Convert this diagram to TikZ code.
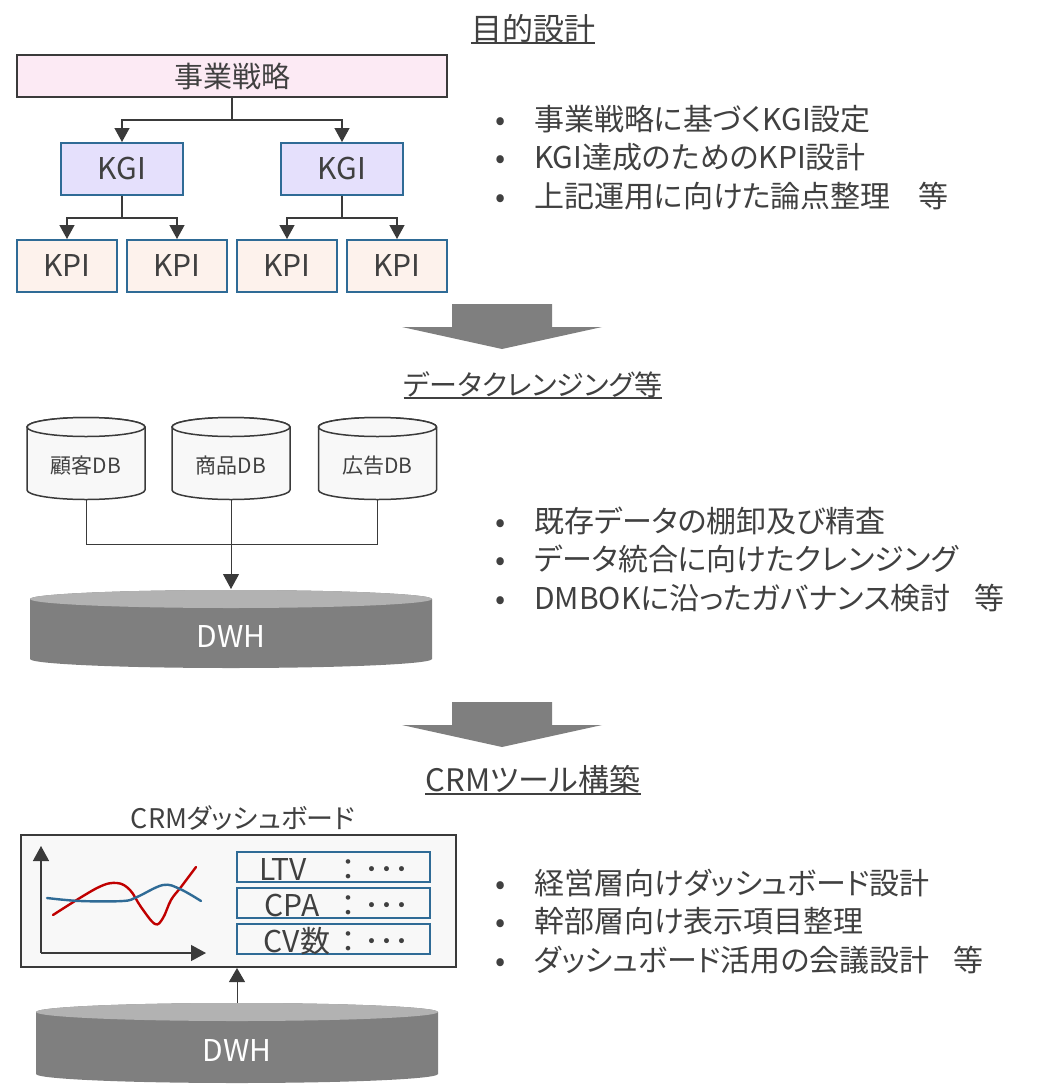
\documentclass[tikz,border=0pt]{standalone}
\usepackage{fontspec}
\setmainfont[RawFeature=+palt]{Noto Sans CJK JP}
\usetikzlibrary{arrows.meta,calc}
\definecolor{tc}{HTML}{404040}
\definecolor{bd}{HTML}{3A3A3A}
\definecolor{bblue}{HTML}{2F6B96}
\definecolor{pinkf}{HTML}{FCEAF4}
\definecolor{lavf}{HTML}{E5E0FC}
\definecolor{peachf}{HTML}{FDF2EC}
\definecolor{dbf}{HTML}{F8F8F8}
\definecolor{gbody}{HTML}{7F7F7F}
\definecolor{gtop}{HTML}{B2B2B2}
\definecolor{cred}{HTML}{C00000}
\newcommand\mycyl[7]{%
  \path[#6] (#1-#2,#3) -- (#1-#2,#4) arc[start angle=180,end angle=360,x radius=#2pt,y radius=#5pt]
    -- (#1+#2,#3) arc[start angle=0,end angle=180,x radius=#2pt,y radius=#5pt] -- cycle;
  \path[#7] (#1,#3) ellipse[x radius=#2pt,y radius=#5pt];
}
\begin{document}
\begin{tikzpicture}[x=1pt,y=-1pt,
  every node/.style={text=tc,inner sep=0pt},
  fs/.style={font=\fontsize{#1}{#1}\selectfont},
  strat/.style={draw=bd,line width=2pt,fill=pinkf,minimum width=430pt,minimum height=42pt,fs=29},
  kgi/.style={draw=bblue,line width=2pt,fill=lavf,minimum width=122pt,minimum height=52pt,fs=30},
  kpi/.style={draw=bblue,line width=2pt,fill=peachf,minimum width=100pt,minimum height=52pt,fs=30},
  conn/.style={draw=bd,line width=1.3pt},
  arr/.style={conn,-{Triangle[width=15pt,length=14pt]}},
  thin/.style={draw=bd,line width=1pt},
  title/.style={fs=31,anchor=base},
  uline/.style={draw=tc,line width=1.6pt},
  bul/.style={fs=30,anchor=base west},
  dblabel/.style={fs=21},
  dwhlabel/.style={fs=30,text=white},
  bigarrow/.style={fill=gbody},
  metric/.style={draw=bblue,line width=2pt,minimum width=193pt,minimum height=30pt},
  mt/.style={fs=30,anchor=base},
  curve/.style={line width=2.4pt,line cap=round}
]
\useasboundingbox (0,0) rectangle (1041,1084);

% ---------- section 1 ----------
\node[title] (t1) at (533,40) {目的設計};
\draw[uline] ([yshift=-3pt]t1.base west) -- ([yshift=-3pt]t1.base east);

\node[strat] (s) at (232,76) {事業戦略};
\node[kgi] (g1) at (122,169) {KGI};
\node[kgi] (g2) at (342,169) {KGI};
\node[kpi] (p1) at (67,266) {KPI};
\node[kpi] (p2) at (177,266) {KPI};
\node[kpi] (p3) at (287,266) {KPI};
\node[kpi] (p4) at (397,266) {KPI};

\coordinate (j0) at (232,120);
\coordinate (j1) at (122,218);
\coordinate (j2) at (342,218);
\draw[conn] (s.south) -- (j0);
\draw[arr] (j0) -| (g1.north);
\draw[arr] (j0) -| (g2.north);
\draw[conn] (g1.south) -- (j1);
\draw[arr] (j1) -| (p1.north);
\draw[arr] (j1) -| (p2.north);
\draw[conn] (g2.south) -- (j2);
\draw[arr] (j2) -| (p3.north);
\draw[arr] (j2) -| (p4.north);

\node[bul] (b11) at (495,130) {\makebox[39pt][l]{•}事業戦略に基づくKGI設定};
\node[bul] (b12) at (495,168.5) {\makebox[39pt][l]{•}KGI達成のためのKPI設計};
\node[bul] (b13) at (495,207) {\makebox[39pt][l]{•}上記運用に向けた論点整理\hspace{28pt}等};

\path[bigarrow] (452,304) -- (552,304) -- (552,327) -- (602,327) -- (502,349) -- (402,327) -- (452,327) -- cycle;

% ---------- section 2 ----------
\node[title,fs=28] (t2) at (533,395) {データクレンジング等};
\draw[uline] ([yshift=-3pt]t2.base west) -- ([yshift=-3pt]t2.base east);

\mycyl{86}{59}{427}{490}{9.5}{fill=dbf,draw=bd,line width=1.5pt}{fill=dbf,draw=bd,line width=1.5pt}
\mycyl{231}{59}{427}{490}{9.5}{fill=dbf,draw=bd,line width=1.5pt}{fill=dbf,draw=bd,line width=1.5pt}
\mycyl{377.5}{59}{427}{490}{9.5}{fill=dbf,draw=bd,line width=1.5pt}{fill=dbf,draw=bd,line width=1.5pt}
\node[dblabel] (db1) at (86,466) {顧客DB};
\node[dblabel] (db2) at (231,466) {商品DB};
\node[dblabel] (db3) at (377.5,466) {広告DB};
\coordinate (db1b) at (86,500);
\coordinate (db2b) at (231,500);
\coordinate (db3b) at (377.5,500);
\coordinate (jd1) at (86,544);
\coordinate (jd3) at (377.5,544);

\mycyl{231}{201}{599}{659}{9}{fill=gbody}{fill=gtop}
\node[dwhlabel] (dwh1) at (231,636) {DWH};
\coordinate (dwh1t) at (231,589);

\draw[thin] (db1b) -- (jd1) -- (jd3) -- (db3b);
\draw[thin,-{Triangle[width=16pt,length=15pt]}] (db2b) -- (dwh1t);

\node[bul] (b21) at (495,532) {\makebox[39pt][l]{•}既存データの棚卸及び精査};
\node[bul] (b22) at (495,570) {\makebox[39pt][l]{•}データ統合に向けたクレンジング};
\node[bul] (b23) at (495,609) {\makebox[39pt][l]{•}DMBOKに沿ったガバナンス検討\hspace{24pt}等};

\path[bigarrow] (452,702) -- (552,702) -- (552,725) -- (602,725) -- (502,747) -- (402,725) -- (452,725) -- cycle;

% ---------- section 3 ----------
\node[title] (t3) at (533,791) {CRMツール構築};
\draw[uline] ([yshift=-3pt]t3.base west) -- ([yshift=-3pt]t3.base east);

\node[fs=27] (crm) at (243,818) {CRMダッシュボード};
\node[draw=bd,line width=2pt,fill=dbf,minimum width=435pt,minimum height=132pt] (dash) at (238.5,901) {};

\coordinate (ax0) at (41,953);
\coordinate (axy) at (41,846);
\coordinate (axx) at (206,953);
\draw[draw=bd,line width=1.3pt,-{Triangle[width=16pt,length=15pt]}] (ax0) -- (axy);
\draw[draw=bd,line width=1.3pt,-{Triangle[width=16pt,length=15pt]}] (ax0) -- (axx);
\draw[curve,cred] plot[smooth,tension=0.6] coordinates {(53,915) (97,888) (117,883) (130,890) (141,907) (155,924) (163,918) (171,900) (181,887) (196,867)};
\draw[curve,bblue] plot[smooth,tension=0.6] coordinates {(47,898) (80,901) (123,901) (137,897) (163,885) (180,889) (201,901)};

\node[metric] (m1) at (333.5,867) {};
\node[metric] (m2) at (333.5,903) {};
\node[metric] (m3) at (333.5,939) {};
\node[mt] (l1) at (283,880) {LTV};
\node[mt] (l2) at (292,916) {CPA};
\node[mt] (l3) at (297,952) {CV数};
\node[mt] (c1) at (348,880) {：};
\node[mt] (c2) at (348,916) {：};
\node[mt] (c3) at (348,952) {：};
\node[mt] (d1) at (387,880) {･･･};
\node[mt] (d2) at (387,916) {･･･};
\node[mt] (d3) at (387,952) {･･･};

\mycyl{237}{201}{1012}{1074}{9}{fill=gbody}{fill=gtop}
\node[dwhlabel] (dwh2) at (237,1050) {DWH};
\coordinate (dwh2t) at (237,1003);
\draw[thin,-{Triangle[width=16pt,length=14pt]}] (dwh2t) -- (dash.south -| dwh2t);

\node[bul] (b31) at (495,894) {\makebox[39pt][l]{•}経営層向けダッシュボード設計};
\node[bul] (b32) at (495,932) {\makebox[39pt][l]{•}幹部層向け表示項目整理};
\node[bul] (b33) at (495,971) {\makebox[39pt][l]{•}ダッシュボード活用の会議設計\hspace{24pt}等};
\end{tikzpicture}
\end{document}
